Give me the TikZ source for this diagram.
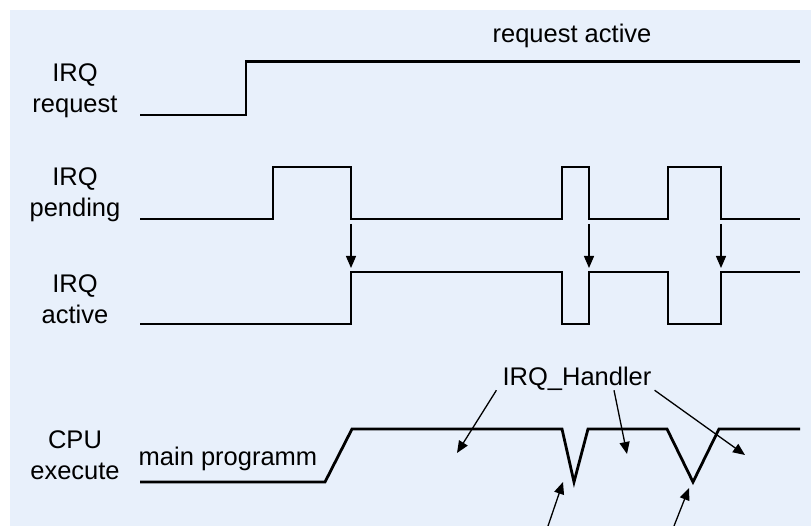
\documentclass[tikz,border=0pt]{standalone}
\usepackage{fontspec}
\setmainfont{Liberation Sans}
\usetikzlibrary{arrows.meta}

\definecolor{bgblue}{RGB}{232,240,251}

\begin{document}
\begin{tikzpicture}[
    x=1pt, y=-1pt,
    >={Triangle[length=12pt,width=10pt]},
    signal/.style={line width=2.8pt, line join=miter},
    marker/.style={->, line width=1.3pt},
    tag/.style={inner sep=0pt, align=center, font=\fontsize{25.5}{31}\selectfont}
]
\useasboundingbox (0,0) rectangle (811,526);
\fill[bgblue] (10,10) rectangle (811,526);

% row labels
\node[tag, anchor=north] (req) at (75,63) {IRQ\\request};
\node[tag, anchor=north] (pend) at (75,167) {IRQ\\pending};
\node[tag, anchor=north] (act) at (75,274) {IRQ\\active};
\node[tag, anchor=north] (cpu) at (75,430) {CPU\\execute};

\node[tag, anchor=base] (reqact) at (572,43) {request active};
\node[tag, anchor=base] (main) at (228,465) {main programm};
\node[tag, anchor=base] (hdl) at (577,385) {IRQ\_Handler};

% signals
\draw[signal] (140,115) -- (246,115) -- (246,61.5) -- (800,61.5);
\draw[signal] (140,219) -- (273,219) -- (273,167) -- (351,167) -- (351,219)
    -- (562,219) -- (562,167) -- (589,167) -- (589,219)
    -- (668,219) -- (668,167) -- (721,167) -- (721,219) -- (800,219);
\draw[signal] (140,324) -- (351,324) -- (351,272) -- (562,272) -- (562,324)
    -- (589,324) -- (589,272) -- (668,272) -- (668,324) -- (721,324)
    -- (721,272) -- (800,272);
\draw[signal] (140,482) -- (325,482) -- (352,429) -- (562,429) -- (574,482)
    -- (588,429) -- (667,429) -- (693,482) -- (719,429) -- (800,429);

% pending -> active
\foreach \x/\n in {351/1, 589/2, 721/3} {
    \coordinate (p\n) at (\x,224);
    \coordinate (a\n) at (\x,268);
    \draw[marker] (p\n) -- (a\n);
}

% handler arrows
\coordinate (t1) at (457,453);
\coordinate (t2) at (627,454);
\coordinate (t3) at (745,455);
\draw[marker] ([xshift=-6pt]hdl.south west) -- (t1);
\draw[marker] ([xshift=37pt]hdl.south) -- (t2);
\draw[marker] ([xshift=3pt]hdl.south east) -- (t3);

\coordinate (b1) at (548,526);
\coordinate (v1) at (563,482);
\coordinate (b2) at (674,526);
\coordinate (v2) at (689,488);
\draw[marker] (b1) -- (v1);
\draw[marker] (b2) -- (v2);
\end{tikzpicture}
\end{document}
